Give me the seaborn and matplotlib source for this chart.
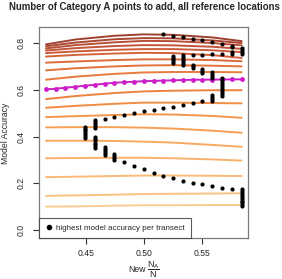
import numpy as np
import pandas as pd
import matplotlib
matplotlib.use("Agg")
import matplotlib.pyplot as plt
import seaborn as sns
from matplotlib.colors import LinearSegmentedColormap
from matplotlib.lines import Line2D

# ---------------- data ----------------
title = "Number of Category A points to add, all reference locations"
ylabel = "Model Accuracy"
legend_label = "highest model accuracy per transect"
xticks = [0.45, 0.50, 0.55]
yticks = [0.0, 0.2, 0.4, 0.6, 0.8]

# x positions (New N_A/N) of the 21 evaluated steps
new_ratio = [0.4155, 0.4239, 0.4323, 0.4408, 0.4492, 0.4576, 0.4660, 0.4745,
             0.4829, 0.4913, 0.4997, 0.5082, 0.5166, 0.5250, 0.5334, 0.5418,
             0.5503, 0.5587, 0.5671, 0.5755, 0.5840]
# x positions at which the transect curves were read
curve_x = [0.4155, 0.4408, 0.4745, 0.4997, 0.5250, 0.5587, 0.5840]

# transect curves, bottom (lightest) to top (darkest), magenta one excluded
lower_curves = [
    [0.100, 0.101, 0.104, 0.106, 0.106, 0.107, 0.107],
    [0.146, 0.148, 0.151, 0.154, 0.155, 0.156, 0.157],
    [0.226, 0.228, 0.231, 0.233, 0.233, 0.232, 0.231],
    [0.307, 0.308, 0.309, 0.309, 0.307, 0.302, 0.297],
    [0.382, 0.382, 0.381, 0.378, 0.374, 0.364, 0.356],
    [0.439, 0.440, 0.440, 0.438, 0.434, 0.425, 0.416],
    [0.483, 0.487, 0.492, 0.495, 0.494, 0.488, 0.480],
    [0.523, 0.531, 0.540, 0.545, 0.545, 0.543, 0.542],
    [0.560, 0.573, 0.586, 0.593, 0.596, 0.598, 0.598],
]
upper_curves = [
    [0.643, 0.656, 0.668, 0.674, 0.676, 0.676, 0.675],
    [0.683, 0.692, 0.700, 0.704, 0.705, 0.703, 0.700],
    [0.716, 0.721, 0.727, 0.730, 0.730, 0.727, 0.722],
    [0.742, 0.749, 0.755, 0.758, 0.757, 0.748, 0.736],
    [0.757, 0.764, 0.771, 0.774, 0.774, 0.769, 0.761],
    [0.768, 0.778, 0.787, 0.791, 0.790, 0.784, 0.775],
    [0.777, 0.791, 0.803, 0.809, 0.808, 0.800, 0.790],
    [0.786, 0.802, 0.816, 0.821, 0.820, 0.811, 0.800],
    [0.794, 0.815, 0.831, 0.837, 0.835, 0.824, 0.808],
]

# highlighted (magenta) transect, one value per step
magenta_acc = [0.602, 0.6045, 0.6088, 0.613, 0.6173, 0.6216, 0.6259, 0.6302,
               0.6323, 0.6344, 0.6366, 0.6379, 0.6392, 0.6404, 0.6417, 0.6426,
               0.6430, 0.6434, 0.6439, 0.6443, 0.6447]

# best-accuracy points (step index, accuracy)
dot_idx = ([12, 13, 14, 15, 16, 17, 18, 19, 19, 20, 20, 20, 20]
           + [13, 13, 13, 13, 13, 14, 14, 14, 14, 14, 14, 15, 16, 17, 18, 19, 19]
           + [15, 15, 15, 16, 16, 16, 17, 17, 17, 17]
           + [18] * 10
           + [4] * 7 + [5] * 5 + [6, 7, 8, 9, 10, 11, 12, 13, 14, 15, 16]
           + [17] * 4
           + [5] * 7 + [6] * 5 + [7] * 4
           + [8, 9, 10, 11, 12, 13, 14, 15, 16, 17, 18, 19]
           + [20] * 10)
dot_acc = ([0.838, 0.832, 0.826, 0.819, 0.812, 0.804, 0.795, 0.789, 0.781,
            0.778, 0.770, 0.762, 0.755]
           + [0.744, 0.737, 0.730, 0.723, 0.716, 0.748, 0.740, 0.732, 0.724,
              0.716, 0.708, 0.748, 0.750, 0.752, 0.754, 0.762, 0.755]
           + [0.708, 0.700, 0.692, 0.689, 0.681, 0.673, 0.677, 0.668, 0.659, 0.650]
           + [0.652, 0.643, 0.634, 0.625, 0.616, 0.607, 0.598, 0.589, 0.580, 0.573]
           + [0.442, 0.434, 0.426, 0.418, 0.410, 0.401, 0.392]
           + [0.471, 0.462, 0.453, 0.444, 0.435]
           + [0.474, 0.485, 0.493, 0.502, 0.509, 0.513, 0.521, 0.526, 0.533,
              0.543, 0.553]
           + [0.578, 0.570, 0.562, 0.553]
           + [0.399, 0.391, 0.383, 0.374, 0.366, 0.358, 0.350]
           + [0.356, 0.347, 0.338, 0.329, 0.321]
           + [0.325, 0.316, 0.308, 0.299]
           + [0.290, 0.274, 0.259, 0.245, 0.232, 0.221, 0.211, 0.202, 0.195,
              0.188, 0.181, 0.174]
           + [0.174, 0.166, 0.158, 0.150, 0.142, 0.134, 0.126, 0.118, 0.110, 0.103])

# ---------------- figure ----------------
sns.set_style("white")
plt.rcParams["font.family"] = ["Liberation Sans", "DejaVu Sans"]
plt.rcParams["mathtext.fontset"] = "custom"
plt.rcParams["mathtext.rm"] = "Liberation Sans"
plt.rcParams["mathtext.it"] = "Liberation Sans"

fig = plt.figure(figsize=(2.82, 2.79), dpi=100)
ax = fig.add_axes([39 / 282, 1 - 238 / 279, (248 - 39) / 282, (238 - 27) / 279])

curves = lower_curves + upper_curves
rows = []
for k, c in enumerate(curves):
    for xv, yv in zip(curve_x, c):
        rows.append({"x": xv, "acc": yv, "curve": k})
df = pd.DataFrame(rows)

cmap = LinearSegmentedColormap.from_list(
    "tr", ["#FDCB92", "#F9AE66", "#F28E42", "#E2703A", "#C8573A", "#9E4130"])
palette = [cmap(k / (len(curves) - 1)) for k in range(len(curves))]

sns.lineplot(data=df, x="x", y="acc", hue="curve", palette=palette,
             legend=False, linewidth=1.4, estimator=None, sort=False, ax=ax)
for ln in ax.lines:
    ln.set_solid_joinstyle("round")

sns.lineplot(x=new_ratio, y=magenta_acc, color="#CC1FC8", linewidth=1.4,
             marker="o", markersize=3.5, markeredgewidth=0, ax=ax)

dots = pd.DataFrame({"x": [new_ratio[i] for i in dot_idx], "acc": dot_acc})
sns.scatterplot(data=dots, x="x", y="acc", color="black", s=9,
                linewidth=0, ax=ax, zorder=5)

ax.set_xlim(0.4095, 0.5895)
ax.set_ylim(-0.0342, 0.8685)
ax.set_xticks(xticks)
ax.set_xticklabels([f"{v:.2f}" for v in xticks])
ax.set_yticks(yticks)
ax.set_yticklabels([f"{v:.1f}" for v in yticks], rotation=90, va="center")
ax.tick_params(axis="both", direction="out", length=4, width=0.8,
               labelsize=6.2, color="#333333")
ax.tick_params(axis="x", bottom=True, pad=4.0)
ax.tick_params(axis="y", left=True, pad=5.5)
ax.set_xlabel("")
ax.set_ylabel("")
for s in ax.spines.values():
    s.set_color("#7a7a7a")
    s.set_linewidth(0.9)

handle = Line2D([], [], marker="o", color="black", linestyle="None",
                markersize=3.0)
leg = ax.legend([handle], [legend_label], loc="lower left",
                bbox_to_anchor=(0, 0), borderaxespad=0, frameon=True,
                fancybox=False, edgecolor="#333333", fontsize=5.8,
                handlelength=0.9, handletextpad=0.45, borderpad=0.75)
leg.get_frame().set_linewidth(0.8)

fig.text(144 / 282, 1 - 7.5 / 279, title, ha="center", va="center",
         fontsize=6.9, fontweight="bold")
fig.text(5.5 / 282, 1 - 133 / 279, ylabel, rotation=90, ha="center",
         va="center", fontsize=6.2)
fig.text(137 / 282, 1 - 269 / 279, "New", ha="center", va="center",
         fontsize=6.2)
fig.text(153 / 282, 1 - 269.5 / 279,
         r"$\dfrac{\mathregular{N_A}}{\mathregular{N}}$",
         ha="center", va="center", fontsize=6.4)

fig.savefig("out.png", dpi=100)
